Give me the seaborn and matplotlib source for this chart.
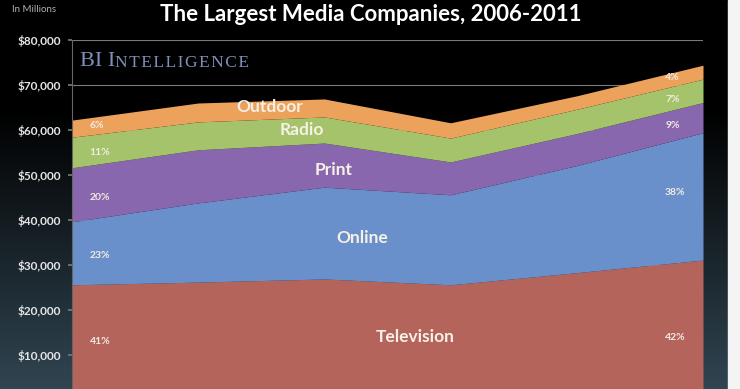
import numpy as np
import matplotlib.pyplot as plt
import seaborn as sns

# values (US$ millions)
years = [2006, 2007, 2008, 2009, 2010, 2011]
categories = ['Television', 'Online', 'Print', 'Radio', 'Outdoor']
television = [25600, 26200, 26900, 25600, 28300, 31100]
online = [14000, 17600, 20400, 20000, 23800, 28300]
print_ads = [12000, 11800, 9800, 7300, 7100, 6700]
radio = [6800, 6200, 5800, 5300, 5400, 5200]
outdoor = [3800, 4200, 4000, 3400, 3000, 3100]
share_first = ['41%', '23%', '20%', '11%', '6%']
share_last = ['42%', '38%', '9%', '7%', '4%']
y_ticks = [10000, 20000, 30000, 40000, 50000, 60000, 70000, 80000]

colors = ['#b5645c', '#6a90cb', '#8867ae', '#a4c36b', '#eda25c']

sns.set_theme(style="dark")
plt.rcParams['font.family'] = ['Lato', 'DejaVu Sans']

fig = plt.figure(figsize=(7.4, 3.89), dpi=100)
fig.patch.set_facecolor('black')

# background: black fading to dark slate at the bottom, white strip at right
bg = fig.add_axes([0, 0, 1, 1], zorder=0)
rows = np.linspace(0, 389, 200)
t = np.clip((rows - 110) / 279, 0, 1)[:, None]
top_c = np.array([0.0, 0.0, 0.0])
bot_c = np.array([0.19, 0.27, 0.32])
grad = (top_c * (1 - t) + bot_c * t)[:, None, :]
bg.imshow(grad, aspect='auto', extent=[0, 1, 0, 1], origin='upper')
bg.axvspan(728 / 740, 1, color='#f4f4f4')
bg.set_xlim(0, 1)
bg.set_ylim(0, 1)
bg.axis('off')

ax = fig.add_axes([72 / 740, -11 / 389, 631 / 740, 360 / 389], zorder=1)
ax.set_facecolor('none')
ax.stackplot(years, television, online, print_ads, radio, outdoor,
             colors=colors, labels=categories, linewidth=0)

ax.set_xlim(2006, 2011)
ax.set_ylim(0, 80000)
ax.set_yticks(y_ticks)
ax.set_yticklabels([f'${v:,}' for v in y_ticks], color='#e6e6e6',
                   fontsize=8.5, fontweight='bold')
ax.set_xticks([])
ax.yaxis.grid(True, color='#7a7a7a', linewidth=0.8)
ax.set_axisbelow(True)
ax.tick_params(axis='y', length=3, color='#777777', left=True, pad=5)
for s in ['top', 'right', 'bottom']:
    ax.spines[s].set_visible(False)
ax.spines['left'].set_color('#666666')
ax.spines['left'].set_linewidth(0.8)

# category labels inside the areas
label_pos = [(2008.72, 14000), (2008.30, 36000), (2008.07, 51100),
             (2007.82, 60000), (2007.57, 65100)]
for name, (x, y) in zip(categories, label_pos):
    ax.text(x, y, name, ha='center', va='center', color='#f7f0e6',
            fontsize=12.5, fontweight='bold')

# share labels at both ends
left_y = [12900, 32200, 45100, 54900, 61100]
right_y = [13800, 46000, 60900, 66700, 71600]
for s, y in zip(share_first, left_y):
    ax.text(2006.14, y, s, ha='left', va='center', color='#f2ebe4',
            fontsize=7.5, fontweight='bold')
for s, y in zip(share_last, right_y):
    ax.text(2010.70, y, s, ha='left', va='center', color='#f2ebe4',
            fontsize=7.5, fontweight='bold')

# watermark
t1 = ax.text(2006.06, 74300, 'BI I', ha='left', va='baseline',
             color='#7f90b8', fontsize=16, family='Liberation Serif')
ax.annotate('N T E L L I G E N C E'.replace(' ', '\u200a'), xy=(1, 0),
            xycoords=t1, ha='left', va='bottom',
            color='#7f90b8', fontsize=12.5, family=['Liberation Serif', 'DejaVu Serif'])

fig.text(0.501, 0.962, 'The Largest Media Companies, 2006-2011', ha='center',
         va='center', color='white', fontsize=16, fontweight='bold')
fig.text(0.016, 0.976, 'In Millions', ha='left', va='center', color='#b0b0b0',
         fontsize=7)

fig.savefig('out.png', dpi=100, facecolor=fig.get_facecolor())
